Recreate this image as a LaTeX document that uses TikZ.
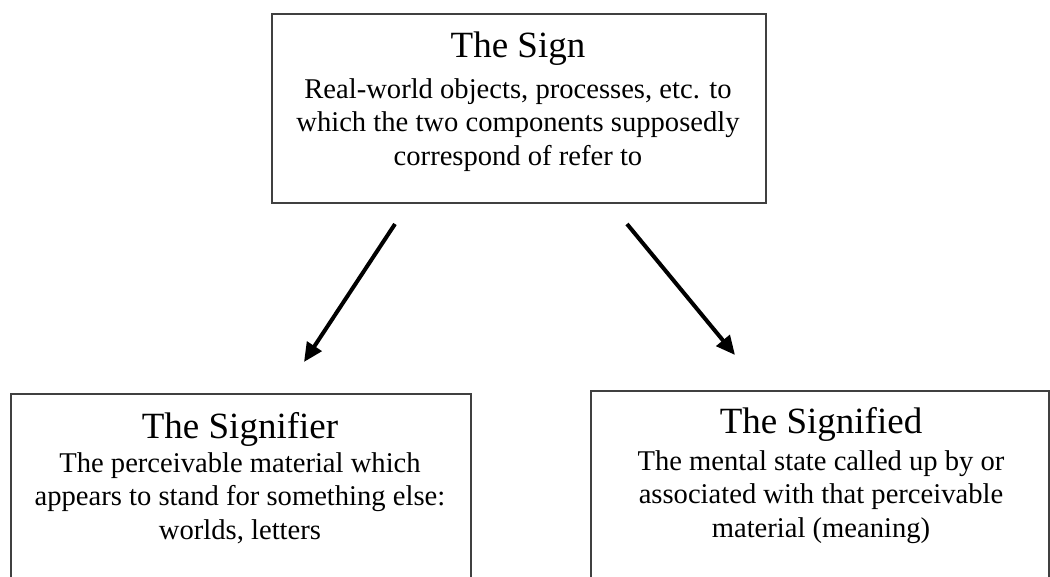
\documentclass[tikz,border=0pt]{standalone}
\usepackage{fontspec}
\setmainfont{Liberation Serif}
\usetikzlibrary{arrows.meta}
\begin{document}
\begin{tikzpicture}[x=1pt,y=-1pt,
  box/.style={draw=black!75, line width=2pt, inner sep=0pt, anchor=north west},
  ttl/.style={font=\fontsize{37}{40}\selectfont, inner sep=0pt, anchor=base},
  bodytext/.style={font=\fontsize{28.6}{33.3}\selectfont, align=center, inner sep=0pt},
  arr/.style={line width=4pt, -{Triangle[length=19pt,width=17pt]}}]
\useasboundingbox (0,0) rectangle (1050,577);
\clip (0,0) rectangle (1050,577);
% top box
\node[box, minimum width=494pt, minimum height=189pt] (sign) at (271,13) {};
\node[ttl] (signT) at (518,58) {The Sign};
\node[bodytext] (signB) at (518,125) {Real-world objects, processes, etc. to\\which the two components supposedly\\correspond of refer to};
% bottom left box
\node[box, minimum width=460pt, minimum height=260pt] (signifier) at (10,393) {};
\node[ttl] (sfrT) at (240,438) {The Signifier};
\node[bodytext] (sfrB) at (240,498) {The perceivable material which\\appears to stand for something else:\\worlds, letters};
% bottom right box
\node[box, minimum width=458pt, minimum height=260pt] (signified) at (590,390) {};
\node[ttl] (sfdT) at (821,433) {The Signified};
\node[bodytext] (sfdB) at (821,497) {The mental state called up by or\\associated with that perceivable\\material (meaning)};
% arrows
\coordinate (a1) at (395,224);
\coordinate (a2) at (304,362);
\coordinate (b1) at (627,224);
\coordinate (b2) at (735,355);
\draw[arr] (a1) -- (a2);
\draw[arr] (b1) -- (b2);
\end{tikzpicture}
\end{document}
